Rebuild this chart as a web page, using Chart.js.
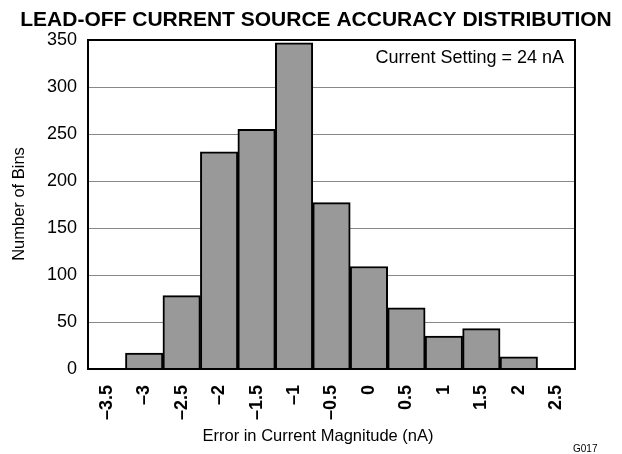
<!DOCTYPE html>
<html>
<head>
<meta charset="utf-8">
<script src="https://cdn.jsdelivr.net/npm/chart.js@4.4.0/dist/chart.umd.min.js"></script>
<style>
  html, body { margin: 0; padding: 0; background: #fff; }
  canvas { display: block; }
</style>
</head>
<body>
<canvas id="chart" width="622" height="454"></canvas>
<script>
const binLabels = ['–3.5', '–3', '–2.5', '–2', '–1.5', '–1', '–0.5', '0', '0.5', '1', '1.5', '2', '2.5'];
const binCounts = [0, 17, 78, 231, 255, 347, 177, 109, 65, 35, 43, 13, 0];
const yTicks = [0, 50, 100, 150, 200, 250, 300, 350];

const FONT = "'Liberation Sans', Arial, sans-serif";

// plot box, page title, axis titles and the two notes
const framePlugin = {
  id: 'frame',
  afterDraw(chart) {
    const { ctx, chartArea: a } = chart;
    ctx.save();
    ctx.strokeStyle = '#000';
    ctx.lineWidth = 2;
    ctx.strokeRect(a.left, a.top, a.right - a.left, a.bottom - a.top);

    ctx.fillStyle = '#000';
    ctx.textBaseline = 'middle';

    ctx.font = 'bold 21px ' + FONT;
    ctx.textAlign = 'center';
    ctx.fillText('LEAD-OFF CURRENT SOURCE ACCURACY DISTRIBUTION', 316, 20);

    ctx.font = '16.5px ' + FONT;
    ctx.fillText('Error in Current Magnitude (nA)', 318, 436);

    ctx.save();
    ctx.translate(19, 204);
    ctx.rotate(-Math.PI / 2);
    ctx.font = '16.5px ' + FONT;
    ctx.fillText('Number of Bins', 0, 0);
    ctx.restore();

    ctx.font = '18px ' + FONT;
    ctx.textAlign = 'right';
    ctx.fillText('Current Setting = 24 nA', a.right - 11, 58);

    ctx.font = '10px ' + FONT;
    ctx.textAlign = 'left';
    ctx.fillText('G017', 573, 449);
    ctx.restore();
  }
};

new Chart(document.getElementById('chart'), {
  type: 'bar',
  data: {
    labels: binLabels,
    datasets: [{
      data: binCounts,
      backgroundColor: '#999999',
      borderColor: '#000',
      borderWidth: 2,
      barPercentage: 1,
      categoryPercentage: 1
    }]
  },
  options: {
    responsive: false,
    animation: false,
    layout: { padding: { top: 40, right: 47, left: 0, bottom: 0 } },
    plugins: {
      legend: { display: false },
      tooltip: { enabled: false },
      title: { display: false }
    },
    scales: {
      x: {
        grid: { display: false, drawTicks: false },
        border: { display: false },
        ticks: {
          color: '#000',
          font: { family: FONT, size: 18, weight: 'bold' },
          minRotation: 90,
          maxRotation: 90,
          padding: 16,
          autoSkip: false
        },
        afterFit(scale) { scale.height = 85; }
      },
      y: {
        min: 0,
        max: 350,
        afterBuildTicks(scale) { scale.ticks = yTicks.map(v => ({ value: v })); },
        grid: { color: '#888', lineWidth: 1, drawTicks: false },
        border: { display: false },
        ticks: {
          color: '#000',
          font: { family: FONT, size: 18 },
          padding: 11
        },
        afterFit(scale) { scale.width = 88; }
      }
    }
  },
  plugins: [framePlugin]
});
</script>
</body>
</html>
